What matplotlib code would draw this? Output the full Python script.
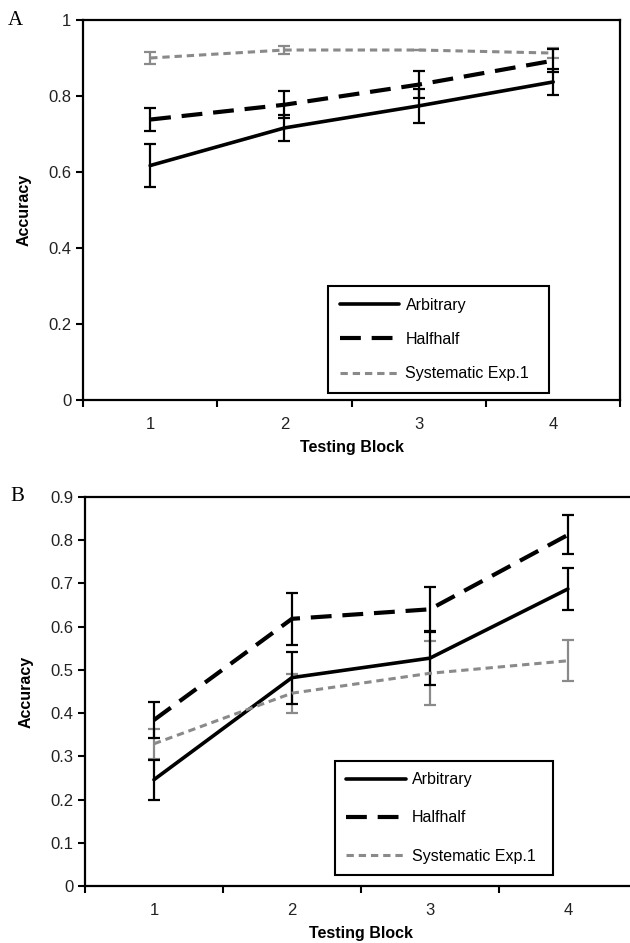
import matplotlib.pyplot as plt
import numpy as np

# panel A: accuracy per testing block
blocks = [1, 2, 3, 4]
block_labels = ["1", "2", "3", "4"]

a_arbitrary = [0.617, 0.716, 0.774, 0.837]
a_arbitrary_err = [0.057, 0.035, 0.045, 0.035]
a_halfhalf = [0.738, 0.777, 0.830, 0.893]
a_halfhalf_err = [0.030, 0.035, 0.036, 0.030]
a_systematic = [0.900, 0.921, 0.921, 0.913]
a_systematic_err = [0.016, 0.010, 0.0, 0.013]

# panel B
b_arbitrary = [0.246, 0.482, 0.527, 0.687]
b_arbitrary_err = [0.046, 0.060, 0.062, 0.048]
b_halfhalf = [0.384, 0.618, 0.640, 0.812]
b_halfhalf_err = [0.042, 0.060, 0.052, 0.045]
b_systematic = [0.329, 0.446, 0.492, 0.521]
b_systematic_err = [0.035, 0.045, 0.074, 0.047]

a_yticks = [0, 0.2, 0.4, 0.6, 0.8, 1.0]
a_ytick_labels = ["0", "0.2", "0.4", "0.6", "0.8", "1"]
b_yticks = [0, 0.1, 0.2, 0.3, 0.4, 0.5, 0.6, 0.7, 0.8, 0.9]
b_ytick_labels = ["0", "0.1", "0.2", "0.3", "0.4", "0.5", "0.6", "0.7", "0.8", "0.9"]

GRAY = "#8a8a8a"
plt.rcParams["font.family"] = ["Liberation Sans", "DejaVu Sans"]


def draw_panel(ax, arb, arb_err, half, half_err, sysm, sysm_err, yticks, ylabels, ymax):
    x = np.array(blocks)
    eb = dict(fmt="none", capsize=4, elinewidth=1.6, capthick=1.6)
    ax.errorbar(x, sysm, yerr=sysm_err, ecolor=GRAY, **eb)
    ax.errorbar(x, arb, yerr=arb_err, ecolor="black", **eb)
    ax.errorbar(x, half, yerr=half_err, ecolor="black", **eb)

    ax.plot(x, arb, color="black", lw=2.6, label="Arbitrary", solid_capstyle="round")
    ax.plot(x, half, color="black", lw=3.0, dashes=(5, 2.6), label="Halfhalf")
    ax.plot(x, sysm, color=GRAY, lw=2.2, dashes=(2.4, 1.6), label="Systematic Exp.1")

    ax.set_xlim(0.5, 4.5)
    ax.set_ylim(0, ymax)
    ax.set_xticks([0.5, 1.5, 2.5, 3.5, 4.5])
    ax.set_xticklabels([])
    ax.set_xticks(x, minor=True)
    ax.set_xticklabels(block_labels, minor=True)
    ax.tick_params(axis="x", which="major", direction="out", length=5, width=1.5)
    ax.tick_params(axis="x", which="minor", length=0, pad=12, labelsize=12, labelcolor="#222222")
    ax.set_yticks(yticks)
    ax.set_yticklabels(ylabels)
    ax.tick_params(axis="y", direction="out", length=5, width=1.5, labelsize=12, labelcolor="#222222")
    for s in ax.spines.values():
        s.set_linewidth(1.6)
    ax.set_xlabel("Testing Block", fontsize=11.5, fontweight="bold", labelpad=6)
    ax.set_ylabel("Accuracy", fontsize=11.5, fontweight="bold", labelpad=12)


def add_legend(ax, anchor, spacing, pad):
    leg = ax.legend(loc="lower left", bbox_to_anchor=anchor, mode="expand", fontsize=11.5,
                    handlelength=3.7, handletextpad=0.4, labelspacing=spacing, borderpad=pad,
                    borderaxespad=0, fancybox=False, edgecolor="black", framealpha=1)
    leg.get_frame().set_linewidth(1.5)
    return leg


fig = plt.figure(figsize=(6.3, 9.43), dpi=100)

ax_a = fig.add_axes([0.1317, 0.5758, 0.853, 0.403])
draw_panel(ax_a, a_arbitrary, a_arbitrary_err, a_halfhalf, a_halfhalf_err,
           a_systematic, a_systematic_err, a_yticks, a_ytick_labels, 1.0)
add_legend(ax_a, (0.456, 0.018, 0.412, 0.29), 1.2, 0.75)

ax_b = fig.add_axes([0.1349, 0.0604, 0.876, 0.4127])
draw_panel(ax_b, b_arbitrary, b_arbitrary_err, b_halfhalf, b_halfhalf_err,
           b_systematic, b_systematic_err, b_yticks, b_ytick_labels, 0.9)
add_legend(ax_b, (0.453, 0.028, 0.395, 0.30), 1.45, 0.72)

fig.text(0.012, 0.978, "A", fontsize=15, family=["Liberation Serif", "DejaVu Serif"], va="center")
fig.text(0.016, 0.473, "B", fontsize=15, family=["Liberation Serif", "DejaVu Serif"], va="center")

fig.savefig("out.png", dpi=100)
